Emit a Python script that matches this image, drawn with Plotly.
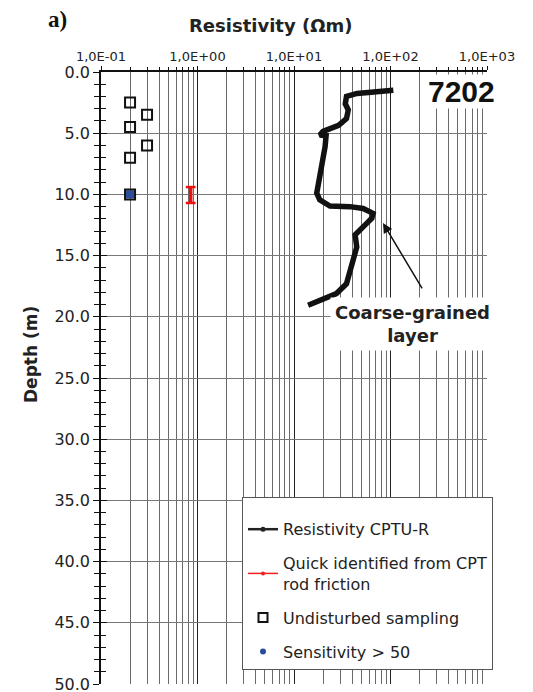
import plotly.graph_objects as go

# ---------------- data ----------------
depth_cptu = [1.5, 1.75, 2.0, 2.6, 3.1, 3.8, 4.35, 4.85, 5.15, 5.2, 6.1, 7.7, 9.1, 9.9,
              10.45, 10.95, 11.0, 11.15, 11.55, 11.95, 12.35, 12.9, 13.3, 14.3, 15.4,
              16.5, 17.3, 18.1, 18.5, 19.05]
resistivity_cptu = [107, 45, 35, 34, 36.5, 35, 29, 20, 18.5, 21.5, 21, 19.4, 17.9, 17.2,
                    18.5, 23.6, 38, 52, 66, 64, 57, 48, 43, 44.7, 41,
                    38, 35, 27.5, 20, 14]

sample_res = [0.2, 0.2, 0.2, 0.2, 0.3, 0.3]
sample_depth = [2.5, 4.5, 7.0, 10.0, 3.5, 6.0]

sens_res = [0.2]
sens_depth = [10.0]

quick_res = [0.85, 0.85]
quick_depth = [9.4, 10.7]

x_tickvals = [0.1, 1, 10, 100, 1000]
x_ticktext = ["1,0E-01", "1,0E+00", "1,0E+01", "1,0E+02", "1,0E+03"]
x_minorvals = [m * 10.0 ** e for e in range(-1, 3) for m in range(2, 10)]
y_tickvals = [0, 5, 10, 15, 20, 25, 30, 35, 40, 45, 50]

# ---------------- layout helpers ----------------
# the page body has an 8 px margin, so figure coords = page coords - 8
OFF = 8
W, H = 533, 692
PL, PR, PT, PB = 101, 487, 72, 684          # plot area in page pixels
L, T = PL - OFF, PT - OFF
PW, PH = PR - PL, PB - PT
R = W - L - PW
B = H - T - PH
FONT = "DejaVu Sans"


def px(x):
    """page x pixel -> paper x"""
    return (x - PL) / PW


def py(y):
    """page y pixel -> paper y"""
    return (PB - y) / PH


fig = go.Figure()

# Resistivity curve (plotted)
fig.add_trace(go.Scatter(x=resistivity_cptu, y=depth_cptu, mode="lines",
                         line=dict(color="#111", width=5.5), showlegend=False,
                         hoverinfo="skip"))
# quick clay marker
fig.add_trace(go.Scatter(x=quick_res, y=quick_depth, mode="lines+markers",
                         line=dict(color="#f01010", width=3.5),
                         marker=dict(symbol="line-ew", size=7,
                                     line=dict(color="#f01010", width=2.5)),
                         showlegend=False, hoverinfo="skip"))
# sensitivity fill
fig.add_trace(go.Scatter(x=sens_res, y=sens_depth, mode="markers",
                         marker=dict(symbol="square", size=8, color="#2a4c9c",
                                     line=dict(width=0)),
                         showlegend=False, hoverinfo="skip"))
# undisturbed sampling squares
fig.add_trace(go.Scatter(x=sample_res, y=sample_depth, mode="markers",
                         marker=dict(symbol="square-open", size=10, color="#111",
                                     line=dict(width=2)),
                         showlegend=False, hoverinfo="skip"))

# legend proxies
fig.add_trace(go.Scatter(x=[None], y=[None], mode="lines+markers",
                         name="Resistivity CPTU-R", legendgroup="a",
                         line=dict(color="#222", width=2.5),
                         marker=dict(symbol="circle", size=5, color="#222")))
fig.add_trace(go.Scatter(x=[None], y=[None], mode="lines+markers",
                         name="Quick identified from CPT<br>rod friction", legendgroup="b",
                         line=dict(color="#f02020", width=1.5),
                         marker=dict(symbol="circle", size=4, color="#f02020")))
fig.add_trace(go.Scatter(x=[None], y=[None], mode="markers",
                         name="Undisturbed sampling", legendgroup="c",
                         marker=dict(symbol="square-open", size=9, color="#111",
                                     line=dict(width=2))))
fig.add_trace(go.Scatter(x=[None], y=[None], mode="markers",
                         name="Sensitivity > 50", legendgroup="d",
                         marker=dict(symbol="circle", size=6, color="#2a4c9c")))

# dummy trace for inside ticks overlay
fig.add_trace(go.Scatter(x=[None], y=[None], xaxis="x", yaxis="y2",
                         showlegend=False, hoverinfo="skip"))

fig.update_layout(
    width=W, height=H,
    margin=dict(l=L, r=R, t=T, b=B, autoexpand=False),
    paper_bgcolor="white", plot_bgcolor="white",
    font=dict(family=FONT, color="#222"),
    xaxis=dict(type="log", side="top", range=[-1, 3],
               tickmode="array", tickvals=x_tickvals, ticktext=x_ticktext,
               tickfont=dict(size=13, color="#222"),
               ticks="outside", ticklen=4, tickcolor="#111", tickwidth=1.2,
               showgrid=True, gridcolor="#222", gridwidth=1.3,
               showline=True, linecolor="#111", linewidth=1.6,
               zeroline=False,
               minor=dict(tickmode="array", tickvals=x_minorvals,
                          ticks="outside", ticklen=3, tickcolor="#111",
                          showgrid=True, gridcolor="#6a6a6a", gridwidth=1.3)),
    yaxis=dict(range=[50, 0], tickmode="array", tickvals=y_tickvals,
               tickformat=".1f", tickfont=dict(size=16, color="#222"),
               ticks="outside", ticklen=6, tickcolor="#111", tickwidth=1.2,
               showgrid=True, gridcolor="#777", gridwidth=1,
               showline=True, linecolor="#111", linewidth=1.6,
               zeroline=False,
               minor=dict(dtick=1, tick0=0, ticks="outside", ticklen=5,
                          tickcolor="#111", tickwidth=1.2, showgrid=False)),
    yaxis2=dict(overlaying="y", matches="y", anchor="x", side="left",
                range=[50, 0], tickmode="array", tickvals=y_tickvals,
                showticklabels=False, ticks="inside", ticklen=6,
                tickcolor="#111", tickwidth=1.2,
                showgrid=False, showline=False, zeroline=False,
                minor=dict(dtick=1, tick0=0, ticks="inside", ticklen=5,
                           tickcolor="#111", tickwidth=1.2, showgrid=False)),
    legend=dict(x=px(242), y=py(497), xanchor="left", yanchor="top",
                bgcolor="white", bordercolor="#555", borderwidth=1,
                font=dict(size=16, color="#222", family=FONT),
                traceorder="grouped", tracegroupgap=10,
                title=dict(text="&nbsp;", font=dict(size=11))),
    showlegend=True,
)

annotations = [
    dict(text="<b>a)</b>", x=px(57), y=py(19), xref="paper", yref="paper",
         xanchor="center", yanchor="middle",
         showarrow=False, font=dict(family="Liberation Serif", size=23, color="#111")),
    dict(text="<b>Resistivity (Ωm)</b>", x=px(270), y=py(25), xref="paper", yref="paper",
         xanchor="center", yanchor="middle",
         showarrow=False, font=dict(family=FONT, size=18, color="#222")),
    dict(text="<b>Depth (m)</b>", x=px(31), y=py(355), xref="paper", yref="paper",
         xanchor="center", yanchor="middle",
         textangle=-90, showarrow=False, font=dict(family=FONT, size=17, color="#222")),
    dict(text="<b>7202</b>", x=px(496), y=py(73.5), xref="paper", yref="paper",
         xanchor="right", yanchor="top", showarrow=False, bgcolor="white",
         borderpad=0, font=dict(family="Liberation Sans", size=30, color="#111")),
    dict(text="<b>Coarse-grained<br>layer</b>", x=px(412), y=py(324), xref="paper",
         yref="paper", xanchor="center", yanchor="middle",
         showarrow=False, bgcolor="white", borderpad=4,
         font=dict(family=FONT, size=18, color="#222")),
    dict(text="", x=1.922, y=12.34, xref="x", yref="y", ax=2.337, ay=17.8,
         axref="x", ayref="y", showarrow=True, arrowhead=2, arrowsize=1.3,
         arrowwidth=1.5, arrowcolor="#111"),
]
fig.update_layout(annotations=annotations)

fig.write_html("out.html")
